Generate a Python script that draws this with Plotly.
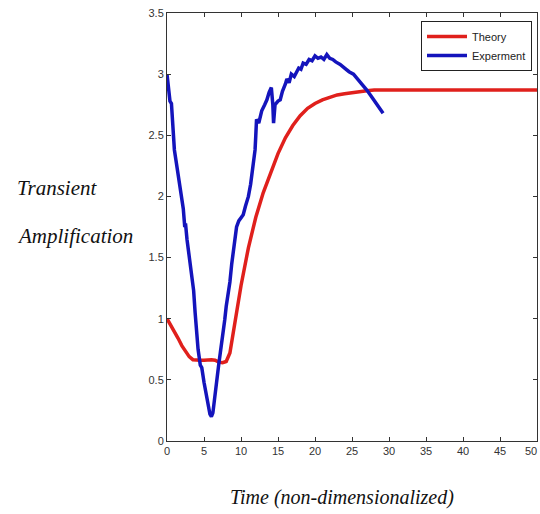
import plotly.graph_objects as go

theory_t = [0, 0.5, 1, 1.5, 2, 2.5, 3, 3.5, 4, 4.5, 5, 5.5, 6, 6.5, 7, 7.5, 8, 8.5, 9, 9.5, 10,
            11, 12, 13, 14, 15, 16, 17, 18, 19, 20, 21, 22, 23, 24, 25, 26, 27, 28, 30, 35, 40, 45, 50]
theory_v = [1.0, 0.95, 0.9, 0.84, 0.78, 0.73, 0.69, 0.665, 0.66, 0.66, 0.66, 0.665, 0.665, 0.66, 0.645,
            0.64, 0.65, 0.72, 0.9, 1.1, 1.27, 1.58, 1.83, 2.03, 2.2, 2.35, 2.48, 2.58, 2.66, 2.72, 2.76,
            2.79, 2.81, 2.83, 2.84, 2.85, 2.86, 2.865, 2.87, 2.87, 2.87, 2.87, 2.87, 2.87]

exp_t = [0, 0.2, 0.4, 0.6, 0.7, 0.85, 1.0, 1.2, 1.4, 1.6, 1.8, 2.0, 2.2, 2.4, 2.5, 2.7, 2.9, 3.1, 3.3,
         3.6, 3.8, 4.0, 4.2, 4.5, 4.7, 5.0, 5.2, 5.4, 5.6, 5.8, 6.0, 6.2, 6.4, 6.6, 6.8, 7.0, 7.2, 7.4,
         7.6, 7.8, 8.0, 8.2, 8.5, 8.75, 9.0, 9.2, 9.4, 9.7, 10.0, 10.3, 10.6, 11.0, 11.3, 11.6, 11.9,
         12.0, 12.1, 12.4, 12.8, 13.2, 13.5, 13.8, 14.1, 14.3, 14.4, 14.6, 15.0, 15.3, 15.6, 16.0, 16.2,
         16.5, 16.8, 17.2, 17.5, 17.8, 18.1, 18.4, 18.8, 19.2, 19.6, 20.0, 20.4, 20.8, 21.2, 21.6, 22.0,
         22.4, 22.8, 23.4, 24.0, 24.6, 25.2, 25.8, 26.4, 27.0, 27.6, 28.2, 28.7, 29.2]
exp_v = [3.0, 2.85, 2.78, 2.76, 2.65, 2.45, 2.38, 2.3, 2.22, 2.15, 2.08, 2.0, 1.9, 1.75, 1.78, 1.65,
         1.55, 1.48, 1.38, 1.23, 1.05, 0.9, 0.75, 0.62, 0.6, 0.48, 0.42, 0.37, 0.3, 0.22, 0.2, 0.23,
         0.33, 0.45, 0.55, 0.63, 0.72, 0.8, 0.9, 0.99, 1.1, 1.18, 1.3, 1.45, 1.55, 1.65, 1.75, 1.8, 1.82,
         1.85, 1.92, 2.0, 2.1, 2.25, 2.38, 2.5, 2.63, 2.6, 2.7, 2.75, 2.79, 2.85, 2.89, 2.75, 2.6, 2.75,
         2.78, 2.79, 2.86, 2.92, 2.96, 2.93, 3.0, 2.98, 3.01, 3.05, 3.04, 3.09, 3.08, 3.12, 3.11, 3.15,
         3.13, 3.14, 3.12, 3.16, 3.13, 3.12, 3.1, 3.08, 3.05, 3.02, 3.0, 2.96, 2.92, 2.87, 2.82, 2.77,
         2.72, 2.68]

x_ticks = [0, 5, 10, 15, 20, 25, 30, 35, 40, 45, 50]
y_ticks = [0, 0.5, 1, 1.5, 2, 2.5, 3, 3.5]
y_labels = ["0", "0.5", "1", "1.5", "2", "2.5", "3", "3.5"]

W, H = 540, 514
pl, pr, pt, pb = 167, 3, 13, 73
pw, ph = W - pl - pr, H - pt - pb


def px(xp):
    return (xp - pl) / pw


def py(yp):
    return (H - pb - yp) / ph


fig = go.Figure()
fig.add_trace(go.Scatter(x=theory_t, y=theory_v, mode="lines", name="Theory",
                         line=dict(color="#e0201c", width=3.5)))
fig.add_trace(go.Scatter(x=exp_t, y=exp_v, mode="lines", name="Experment",
                         line=dict(color="#1414bc", width=3.5)))

narrow = "Liberation Sans Narrow, Arial Narrow, Liberation Sans, sans-serif"
tickfont = dict(family=narrow, size=11, color="#333333")
fig.update_xaxes(range=[0, 50], tickvals=x_ticks[:-1], ticks="inside", ticklen=4, tickcolor="#333",
                 showline=True, linecolor="#333", linewidth=1, mirror="ticks", showgrid=False,
                 zeroline=False, tickfont=tickfont)
fig.update_yaxes(range=[0, 3.5], tickvals=y_ticks, ticktext=y_labels, ticks="inside", ticklen=4,
                 tickcolor="#333", showline=True, linecolor="#333", linewidth=1, mirror="ticks",
                 showgrid=False, zeroline=False, tickfont=tickfont)

serif = "Liberation Serif, Times New Roman, serif"
fig.update_layout(
    width=W, height=H,
    margin=dict(l=pl, r=pr, t=pt, b=pb),
    paper_bgcolor="white", plot_bgcolor="white",
    showlegend=True,
    legend=dict(x=px(532), y=py(21), xanchor="right", yanchor="top", bgcolor="white",
                bordercolor="#222", borderwidth=1,
                font=dict(family=narrow, size=11, color="#222"),
                tracegroupgap=0, itemwidth=40),
)
# last x tick label, kept inside the page at the right edge
fig.add_annotation(text=str(x_ticks[-1]), x=x_ticks[-1], y=0, xref="x", yref="y",
                   yshift=-10, xshift=2, xanchor="right", yanchor="middle", showarrow=False,
                   font=tickfont)
fig.add_annotation(text="<i>Transient</i>", x=px(15), y=py(188), xref="paper", yref="paper",
                   xanchor="left", yanchor="middle", showarrow=False,
                   font=dict(family=serif, size=21, color="#111"))
fig.add_annotation(text="<i>Amplification</i>", x=px(15), y=py(236), xref="paper", yref="paper",
                   xanchor="left", yanchor="middle", showarrow=False,
                   font=dict(family=serif, size=21, color="#111"))
fig.add_annotation(text="<i>Time (non-dimensionalized)</i>", x=px(342), y=py(497), xref="paper",
                   yref="paper", xanchor="center", yanchor="middle", showarrow=False,
                   font=dict(family=serif, size=20, color="#111"))

fig.write_html("out.html")
